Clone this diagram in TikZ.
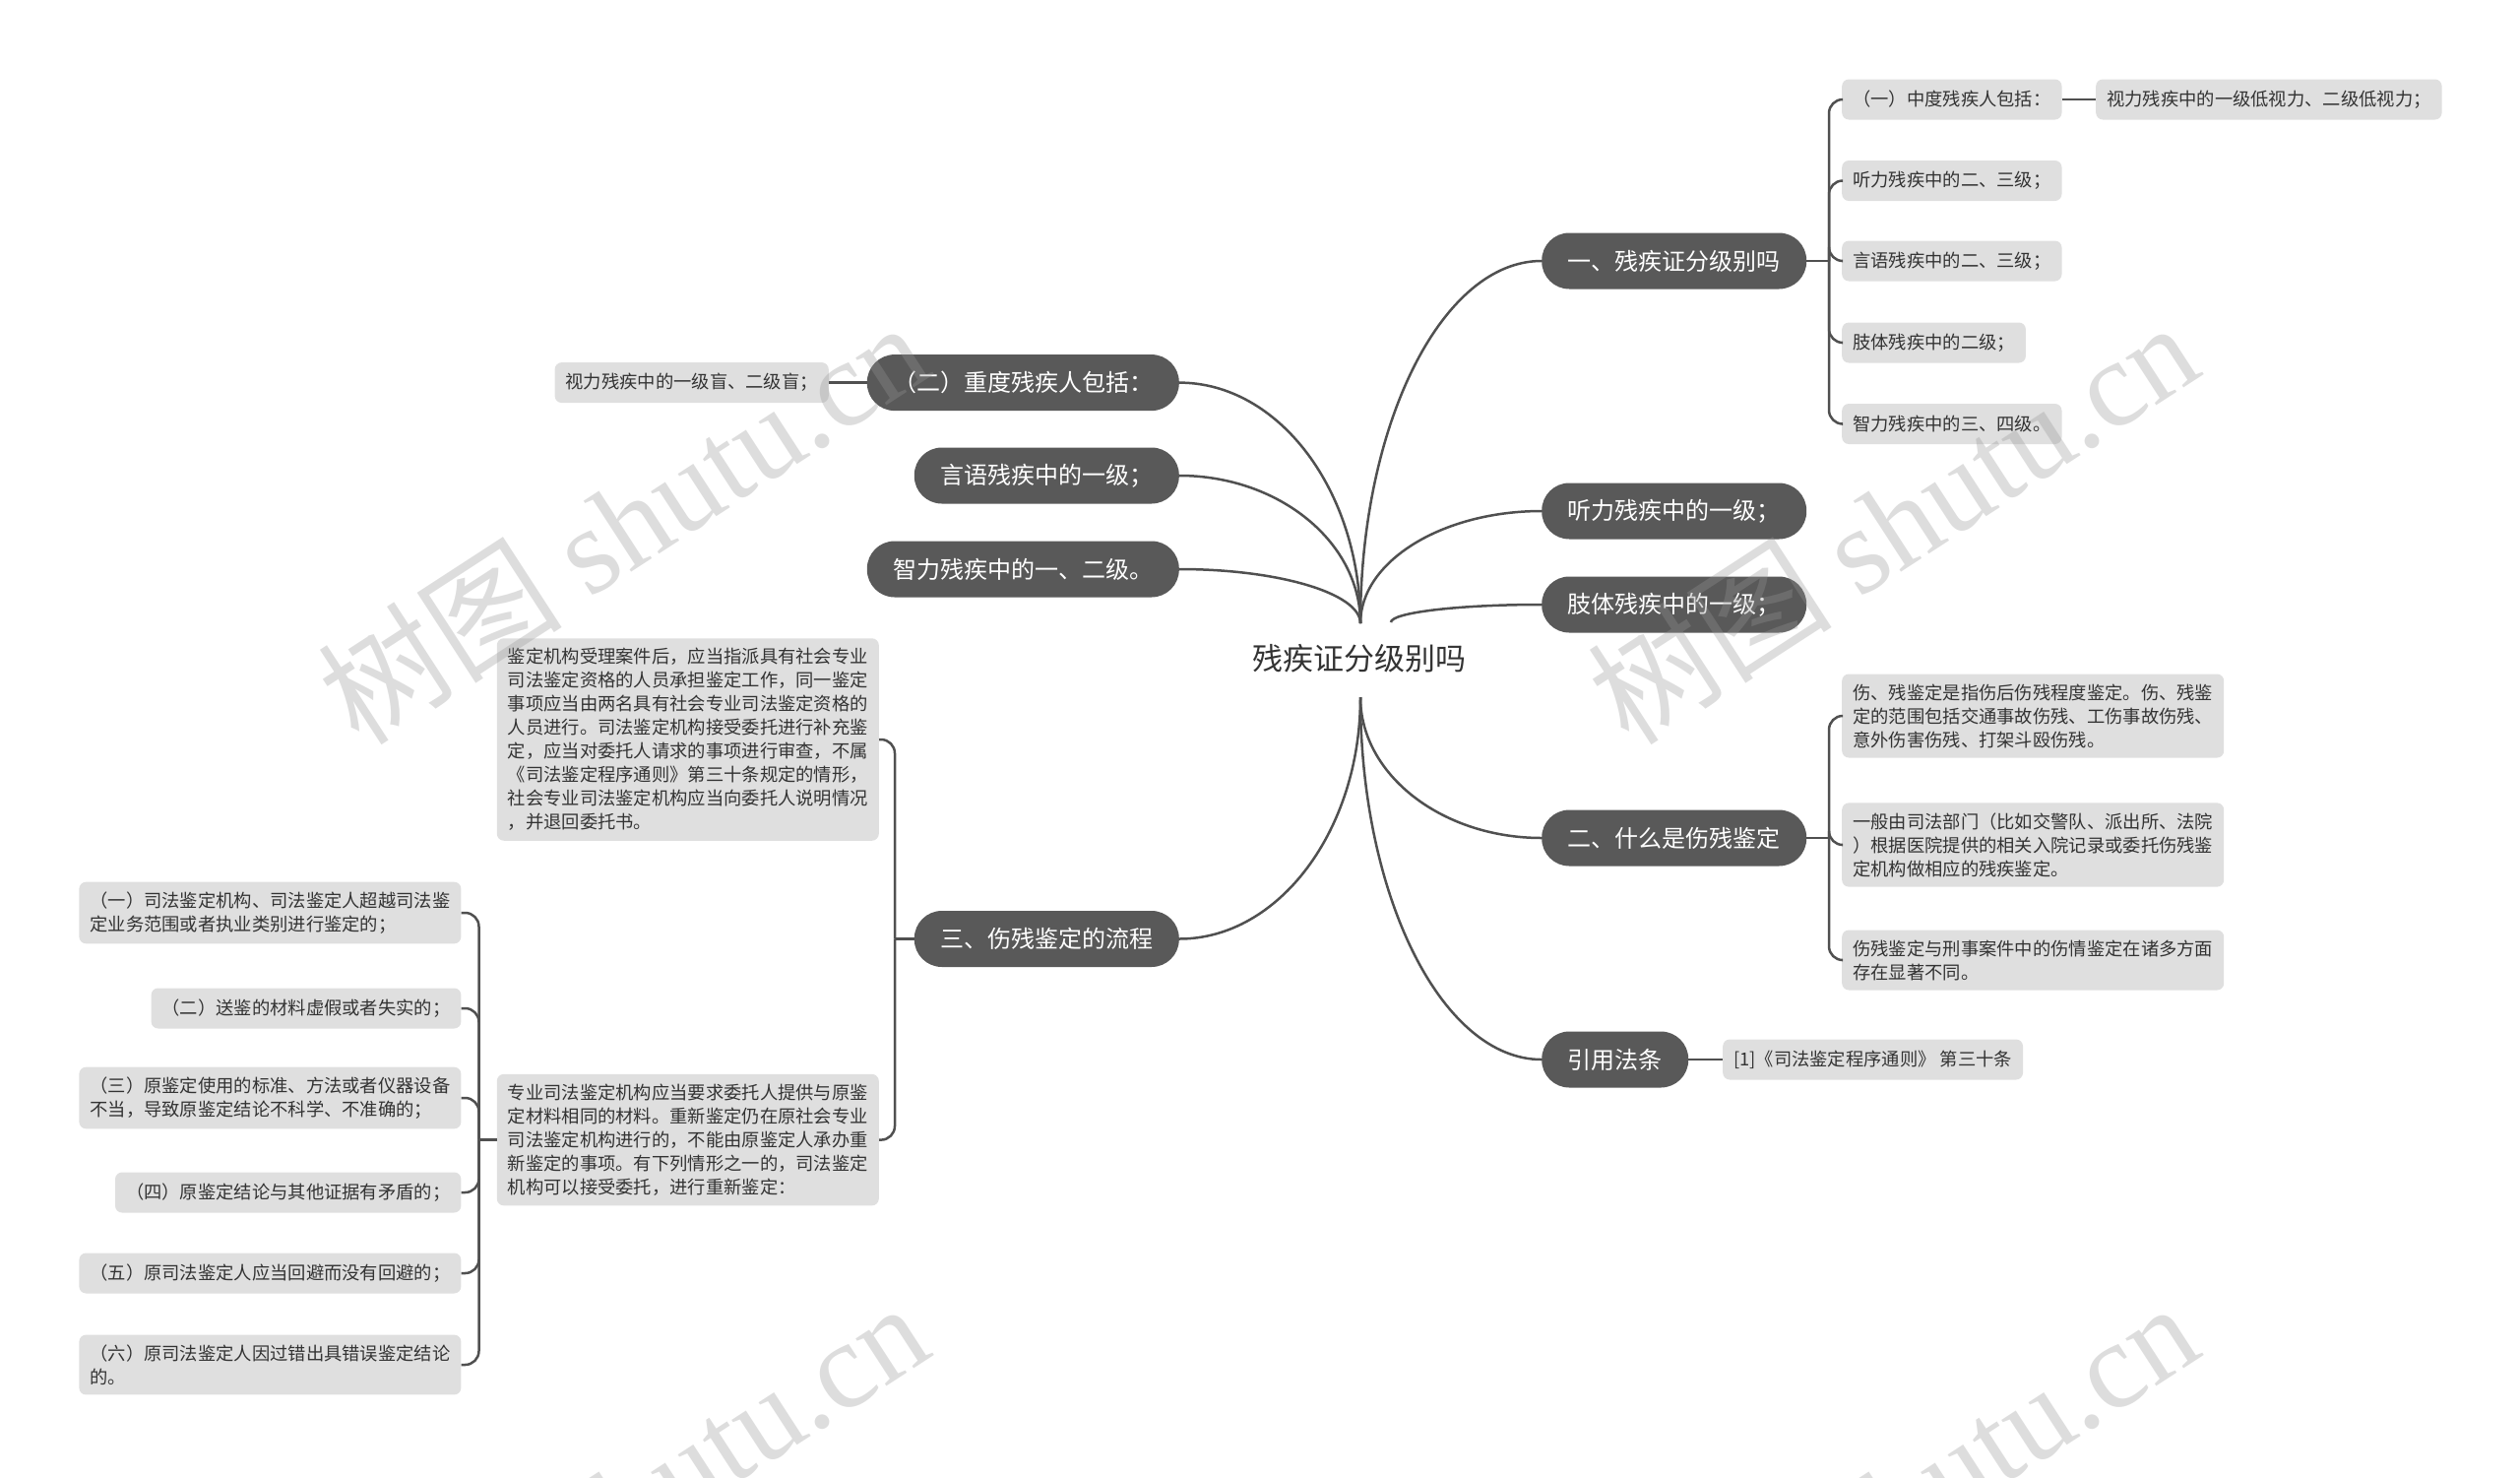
\documentclass[tikz,border=0pt]{standalone}
\usepackage{fontspec}
\setmainfont{Noto Sans CJK SC}
\newfontfamily\wmlatin{Liberation Serif}
\usetikzlibrary{calc}
\definecolor{maingray}{HTML}{595959}
\definecolor{leafgray}{HTML}{DFDFDF}
\definecolor{linegray}{HTML}{505050}
\definecolor{textgray}{HTML}{333333}
\newcommand{\rootlink}[2]{\draw[conn] (#1) .. controls ($(#1)!0.55!(#1|-#2)$) and ($(#2)!0.55!(#1|-#2)$) .. (#2);}

\begin{document}
\begin{tikzpicture}[x=1pt, y=-1pt,
    root/.style={text=textgray, font=\fontsize{31}{37}\selectfont},
    topic/.style={fill=maingray, text=white, rounded corners=28pt, minimum height=57pt,
        inner xsep=26.5pt, inner ysep=0pt, font=\fontsize{24}{29}\selectfont},
    leaf/.style={fill=leafgray, text=textgray, rounded corners=7pt, minimum height=41pt,
        inner xsep=11pt, inner ysep=10pt, align=left, font=\fontsize{18.3}{24}\selectfont},
    conn/.style={draw=linegray, line width=2.5pt},
    wm/.style={text=black!41, text opacity=0.32, font=\fontsize{125}{130}\selectfont}]
    \useasboundingbox (0,0) rectangle (2560,1500);

    \node[root] (root) at (1381,669) {残疾证分级别吗};
    \coordinate (rootN) at (1382,633);
    \coordinate (rootS) at (1382,708);
    \coordinate (rootE) at (1413,632);

    % right side
    \node[topic, anchor=west] (r1) at (1566,265) {一、残疾证分级别吗};
    \node[topic, anchor=west] (r2) at (1566,519) {听力残疾中的一级；};
    \node[topic, anchor=west] (r3) at (1566,614) {肢体残疾中的一级；};
    \node[topic, anchor=west] (r4) at (1566,851) {二、什么是伤残鉴定};
    \node[topic, anchor=west] (r5) at (1566,1076) {引用法条};

    % left side
    \node[topic, anchor=east] (l1) at (1198,388.6) {（二）重度残疾人包括：};
    \node[topic, anchor=east] (l2) at (1198,483) {言语残疾中的一级；};
    \node[topic, anchor=east] (l3) at (1198,578) {智力残疾中的一、二级。};
    \node[topic, anchor=east] (l4) at (1198,953.5) {三、伤残鉴定的流程};

    \foreach \s/\t in {rootN/r1.west, rootN/r2.west, rootE/r3.west, rootS/r4.west, rootS/r5.west,
                       rootN/l1.east, rootN/l2.east, rootN/l3.east, rootS/l4.east} {
        \rootlink{\s}{\t}
    }

    \node[leaf, anchor=west] (r1a) at (1871,101) {（一）中度残疾人包括：};
    \node[leaf, anchor=west] (r1aa) at (2129,101) {视力残疾中的一级低视力、二级低视力；};
    \node[leaf, anchor=west] (r1b) at (1871,183.5) {听力残疾中的二、三级；};
    \node[leaf, anchor=west] (r1c) at (1871,265) {言语残疾中的二、三级；};
    \node[leaf, anchor=west] (r1d) at (1871,348) {肢体残疾中的二级；};
    \node[leaf, anchor=west] (r1e) at (1871,430.5) {智力残疾中的三、四级。};

    \node[leaf, anchor=west] (r4a) at (1871,727) {伤、残鉴定是指伤后伤残程度鉴定。伤、残鉴\\定的范围包括交通事故伤残、工伤事故伤残、\\意外伤害伤残、打架斗殴伤残。};
    \node[leaf, anchor=west] (r4b) at (1871,858) {一般由司法部门（比如交警队、派出所、法院\\）根据医院提供的相关入院记录或委托伤残鉴\\定机构做相应的残疾鉴定。};
    \node[leaf, anchor=west] (r4c) at (1871,975) {伤残鉴定与刑事案件中的伤情鉴定在诸多方面\\存在显著不同。};

    \node[leaf, anchor=west] (r5a) at (1750,1076) {[1]《司法鉴定程序通则》 第三十条};

    \node[leaf, anchor=east] (l1a) at (842,388.6) {视力残疾中的一级盲、二级盲；};

    \node[leaf, anchor=east] (l4a) at (893,751) {鉴定机构受理案件后，应当指派具有社会专业\\司法鉴定资格的人员承担鉴定工作，同一鉴定\\事项应当由两名具有社会专业司法鉴定资格的\\人员进行。司法鉴定机构接受委托进行补充鉴\\定，应当对委托人请求的事项进行审查，不属\\《司法鉴定程序通则》第三十条规定的情形，\\社会专业司法鉴定机构应当向委托人说明情况\\，并退回委托书。};
    \node[leaf, anchor=east] (l4b) at (893,1157.6) {专业司法鉴定机构应当要求委托人提供与原鉴\\定材料相同的材料。重新鉴定仍在原社会专业\\司法鉴定机构进行的，不能由原鉴定人承办重\\新鉴定的事项。有下列情形之一的，司法鉴定\\机构可以接受委托，进行重新鉴定：};

    \node[leaf, anchor=east] (l4ba) at (468.6,927) {（一）司法鉴定机构、司法鉴定人超越司法鉴\\定业务范围或者执业类别进行鉴定的；};
    \node[leaf, anchor=east] (l4bb) at (468.6,1024) {（二）送鉴的材料虚假或者失实的；};
    \node[leaf, anchor=east] (l4bc) at (468.6,1115) {（三）原鉴定使用的标准、方法或者仪器设备\\不当，导致原鉴定结论不科学、不准确的；};
    \node[leaf, anchor=east] (l4bd) at (468.6,1211) {（四）原鉴定结论与其他证据有矛盾的；};
    \node[leaf, anchor=east] (l4be) at (468.6,1293) {（五）原司法鉴定人应当回避而没有回避的；};
    \node[leaf, anchor=east] (l4bf) at (468.6,1386) {（六）原司法鉴定人因过错出具错误鉴定结论\\的。};

    % brackets
    \coordinate (s1) at (1858,265);
    \draw[conn] (r1.east) -- (s1);
    \foreach \c in {r1a,r1b,r1c,r1d,r1e}
        \draw[conn, rounded corners=14pt] (s1) |- (\c.west);
    \draw[conn] (r1a.east) -- (r1aa.west);

    \coordinate (s2) at (1858,851);
    \draw[conn] (r4.east) -- (s2);
    \foreach \c in {r4a,r4b,r4c}
        \draw[conn, rounded corners=14pt] (s2) |- (\c.west);

    \draw[conn] (r5.east) -- (r5a.west);
    \draw[conn] (l1.west) -- (l1a.east);

    \coordinate (s3) at (909,953.5);
    \draw[conn] (l4.west) -- (s3);
    \foreach \c in {l4a,l4b}
        \draw[conn, rounded corners=14pt] (s3) |- (\c.east);

    \coordinate (s4) at (486.5,1157.6);
    \draw[conn] (l4b.west) -- (s4);
    \foreach \c in {l4ba,l4bb,l4bc,l4bd,l4be,l4bf}
        \draw[conn, rounded corners=14pt] (s4) |- (\c.east);

    % watermark
    \foreach \x/\y [count=\i] in {632/530, 1922/530, 632/1526, 1922/1526}
        \node[wm, rotate=33] (wm\i) at (\x,\y) {树图 {\wmlatin shutu.cn}};
\end{tikzpicture}
\end{document}
